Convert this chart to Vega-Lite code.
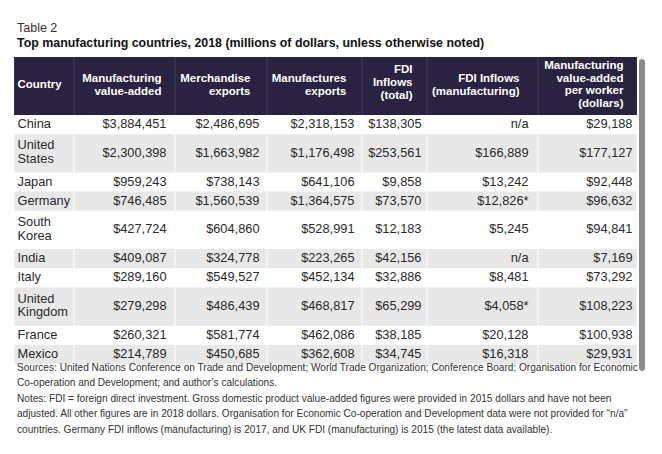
{
  "$schema": "https://vega.github.io/schema/vega-lite/v6.json",
  "background": "white",
  "padding": {"left": 14, "top": 22, "right": 10, "bottom": 5},
  "datasets": {
    "table": [
      {"country": "China", "lines": 1, "mva": 3884451, "merch": 2486695, "manuf": 2318153, "fdi": 138305, "fdim": "n/a", "perw": 29188},
      {"country": "United States", "lines": 2, "mva": 2300398, "merch": 1663982, "manuf": 1176498, "fdi": 253561, "fdim": "$166,889", "perw": 177127},
      {"country": "Japan", "lines": 1, "mva": 959243, "merch": 738143, "manuf": 641106, "fdi": 9858, "fdim": "$13,242", "perw": 92448},
      {"country": "Germany", "lines": 1, "mva": 746485, "merch": 1560539, "manuf": 1364575, "fdi": 73570, "fdim": "$12,826*", "perw": 96632},
      {"country": "South Korea", "lines": 2, "mva": 427724, "merch": 604860, "manuf": 528991, "fdi": 12183, "fdim": "$5,245", "perw": 94841},
      {"country": "India", "lines": 1, "mva": 409087, "merch": 324778, "manuf": 223265, "fdi": 42156, "fdim": "n/a", "perw": 7169},
      {"country": "Italy", "lines": 1, "mva": 289160, "merch": 549527, "manuf": 452134, "fdi": 32886, "fdim": "$8,481", "perw": 73292},
      {"country": "United Kingdom", "lines": 2, "mva": 279298, "merch": 486439, "manuf": 468817, "fdi": 65299, "fdim": "$4,058*", "perw": 108223},
      {"country": "France", "lines": 1, "mva": 260321, "merch": 581774, "manuf": 462086, "fdi": 38185, "fdim": "$20,128", "perw": 100938},
      {"country": "Mexico", "lines": 1, "mva": 214789, "merch": 450685, "manuf": 362608, "fdi": 34745, "fdim": "$16,318", "perw": 29931}
    ],
    "headers": [
      {"col": "country", "label": ["Country"]},
      {"col": "mva", "label": ["Manufacturing", "value-added"]},
      {"col": "merch", "label": ["Merchandise", "exports"]},
      {"col": "manuf", "label": ["Manufactures", "exports"]},
      {"col": "fdi", "label": ["FDI", "Inflows", "(total)"]},
      {"col": "fdim", "label": ["FDI Inflows", "(manufacturing)"]},
      {"col": "perw", "label": ["Manufacturing", "value-added", "per worker", "(dollars)"]}
    ]
  },
  "title": {
    "text": "Table 2",
    "subtitle": "Top manufacturing countries, 2018 (millions of dollars, unless otherwise noted)",
    "anchor": "start",
    "dx": 3,
    "font": "Liberation Sans",
    "fontSize": 12.5,
    "fontWeight": "normal",
    "color": "#333333",
    "subtitleFont": "Liberation Sans",
    "subtitleFontSize": 12.4,
    "subtitleFontWeight": "bold",
    "subtitleColor": "#111111",
    "subtitlePadding": 2,
    "offset": 8
  },
  "spacing": 0,
  "vconcat": [
    {
      "spacing": 0,
      "title": {
        "text": [
          "Sources: United Nations Conference on Trade and Development; World Trade Organization; Conference Board; Organisation for Economic",
          "Co-operation and Development; and author’s calculations.",
          "Notes: FDI = foreign direct investment. Gross domestic product value-added figures were provided in 2015 dollars and have not been",
          "adjusted. All other figures are in 2018 dollars. Organisation for Economic Co-operation and Development data were not provided for “n/a”",
          "countries. Germany FDI inflows (manufacturing) is 2017, and UK FDI (manufacturing) is 2015 (the latest data available)."
        ],
        "orient": "bottom",
        "anchor": "start",
        "dx": 3,
        "offset": -10.5,
        "font": "Liberation Sans",
        "fontSize": 10.1,
        "fontWeight": "normal",
        "color": "#333333",
        "lineHeight": 15.6
      },
      "hconcat": [
        {
          "spacing": 0,
          "vconcat": [
            {
              "width": 60, "height": 58,
              "data": {"name": "headers"},
              "transform": [{"filter": "datum.col == 'country'"}],
              "view": {"fill": "#443e5e"},
              "layer": [
                {"mark": {"type": "rect", "color": "#29233f"}, "encoding": {"x": {"datum": 0, "type": "quantitative", "scale": {"domain": [0, 1], "padding": 0.5, "nice": false, "zero": false}}, "x2": {"datum": 1}}},
                {
                  "mark": {"type": "text", "align": "left", "baseline": "middle", "dx": 3, "dy": -1, "font": "Liberation Sans", "fontSize": 11.5, "fontWeight": "bold", "color": "white", "lineHeight": 12.7},
                  "encoding": {"x": {"datum": 0, "type": "quantitative"}, "text": {"field": "label"}}
                }
              ]
            },
            {
              "width": 60, "height": 249,
              "data": {"name": "table"},
              "transform": [
                {"window": [{"op": "row_number", "as": "rn"}, {"op": "sum", "field": "lines", "as": "B"}], "frame": [null, 0]},
                {"window": [{"op": "sum", "field": "lines", "as": "T"}], "frame": [null, -1]}
              ],
              "layer": [
                {
                  "transform": [{"filter": "datum.rn % 2 == 0"}],
                  "mark": {"type": "rect", "color": "#e8e8e8"},
                  "encoding": {
                    "x": {"datum": 0, "type": "quantitative", "scale": {"domain": [0, 1], "padding": 0.5, "nice": false, "zero": false}},
                    "x2": {"datum": 1},
                    "y": {"field": "T", "type": "quantitative", "scale": {"domain": [0, 13], "reverse": true, "nice": false, "zero": false}},
                    "y2": {"field": "B"}
                  }
                },
                {
                  "transform": [{"filter": "datum.lines == 1"}],
                  "mark": {"type": "text", "align": "left", "baseline": "middle", "dx": 3, "dy": -10.1, "font": "Liberation Sans", "fontSize": 12.8, "color": "#2a2a2a"},
                  "encoding": {"x": {"datum": 0, "type": "quantitative"}, "y": {"field": "B", "type": "quantitative"}, "text": {"field": "country"}}
                },
                {
                  "transform": [{"filter": "datum.lines == 2"}],
                  "mark": {"type": "text", "align": "left", "baseline": "middle", "dx": 3, "dy": -27, "lineBreak": " ", "lineHeight": 13.5, "font": "Liberation Sans", "fontSize": 12.8, "color": "#2a2a2a"},
                  "encoding": {"x": {"datum": 0, "type": "quantitative"}, "y": {"field": "B", "type": "quantitative"}, "text": {"field": "country"}}
                }
              ]
            }
          ]
        },
        {
          "spacing": 0,
          "vconcat": [
            {
              "width": 101, "height": 58,
              "data": {"name": "headers"},
              "transform": [{"filter": "datum.col == 'mva'"}],
              "view": {"fill": "#443e5e"},
              "layer": [
                {"mark": {"type": "rect", "color": "#29233f"}, "encoding": {"x": {"datum": 0, "type": "quantitative", "scale": {"domain": [0, 1], "padding": 0.5, "nice": false, "zero": false}}, "x2": {"datum": 1}}},
                {
                  "mark": {"type": "text", "align": "right", "baseline": "middle", "dx": -13, "dy": -7, "font": "Liberation Sans", "fontSize": 11.5, "fontWeight": "bold", "color": "white", "lineHeight": 12.7},
                  "encoding": {"x": {"datum": 1, "type": "quantitative"}, "text": {"field": "label"}}
                }
              ]
            },
            {
              "width": 101, "height": 249,
              "data": {"name": "table"},
              "transform": [
                {"window": [{"op": "row_number", "as": "rn"}, {"op": "sum", "field": "lines", "as": "B"}], "frame": [null, 0]},
                {"window": [{"op": "sum", "field": "lines", "as": "T"}], "frame": [null, -1]}
              ],
              "layer": [
                {
                  "transform": [{"filter": "datum.rn % 2 == 0"}],
                  "mark": {"type": "rect", "color": "#e8e8e8"},
                  "encoding": {
                    "x": {"datum": 0, "type": "quantitative", "scale": {"domain": [0, 1], "padding": 0.5, "nice": false, "zero": false}},
                    "x2": {"datum": 1},
                    "y": {"field": "T", "type": "quantitative", "scale": {"domain": [0, 13], "reverse": true, "nice": false, "zero": false}},
                    "y2": {"field": "B"}
                  }
                },
                {
                  "transform": [{"filter": "datum.lines == 1"}],
                  "mark": {"type": "text", "align": "right", "baseline": "middle", "dx": -8, "dy": -10.1, "font": "Liberation Sans", "fontSize": 12.8, "color": "#2a2a2a"},
                  "encoding": {"x": {"datum": 1, "type": "quantitative"}, "y": {"field": "B", "type": "quantitative"}, "text": {"field": "mva", "type": "quantitative", "format": "$,.0f"}}
                },
                {
                  "transform": [{"filter": "datum.lines == 2"}],
                  "mark": {"type": "text", "align": "right", "baseline": "middle", "dx": -8, "dy": -19.7, "font": "Liberation Sans", "fontSize": 12.8, "color": "#2a2a2a"},
                  "encoding": {"x": {"datum": 1, "type": "quantitative"}, "y": {"field": "B", "type": "quantitative"}, "text": {"field": "mva", "type": "quantitative", "format": "$,.0f"}}
                }
              ]
            }
          ]
        },
        {
          "spacing": 0,
          "vconcat": [
            {
              "width": 92, "height": 58,
              "data": {"name": "headers"},
              "transform": [{"filter": "datum.col == 'merch'"}],
              "view": {"fill": "#443e5e"},
              "layer": [
                {"mark": {"type": "rect", "color": "#29233f"}, "encoding": {"x": {"datum": 0, "type": "quantitative", "scale": {"domain": [0, 1], "padding": 0.5, "nice": false, "zero": false}}, "x2": {"datum": 1}}},
                {
                  "mark": {"type": "text", "align": "right", "baseline": "middle", "dx": -16, "dy": -7, "font": "Liberation Sans", "fontSize": 11.5, "fontWeight": "bold", "color": "white", "lineHeight": 12.7},
                  "encoding": {"x": {"datum": 1, "type": "quantitative"}, "text": {"field": "label"}}
                }
              ]
            },
            {
              "width": 92, "height": 249,
              "data": {"name": "table"},
              "transform": [
                {"window": [{"op": "row_number", "as": "rn"}, {"op": "sum", "field": "lines", "as": "B"}], "frame": [null, 0]},
                {"window": [{"op": "sum", "field": "lines", "as": "T"}], "frame": [null, -1]}
              ],
              "layer": [
                {
                  "transform": [{"filter": "datum.rn % 2 == 0"}],
                  "mark": {"type": "rect", "color": "#e8e8e8"},
                  "encoding": {
                    "x": {"datum": 0, "type": "quantitative", "scale": {"domain": [0, 1], "padding": 0.5, "nice": false, "zero": false}},
                    "x2": {"datum": 1},
                    "y": {"field": "T", "type": "quantitative", "scale": {"domain": [0, 13], "reverse": true, "nice": false, "zero": false}},
                    "y2": {"field": "B"}
                  }
                },
                {
                  "transform": [{"filter": "datum.lines == 1"}],
                  "mark": {"type": "text", "align": "right", "baseline": "middle", "dx": -7, "dy": -10.1, "font": "Liberation Sans", "fontSize": 12.8, "color": "#2a2a2a"},
                  "encoding": {"x": {"datum": 1, "type": "quantitative"}, "y": {"field": "B", "type": "quantitative"}, "text": {"field": "merch", "type": "quantitative", "format": "$,.0f"}}
                },
                {
                  "transform": [{"filter": "datum.lines == 2"}],
                  "mark": {"type": "text", "align": "right", "baseline": "middle", "dx": -7, "dy": -19.7, "font": "Liberation Sans", "fontSize": 12.8, "color": "#2a2a2a"},
                  "encoding": {"x": {"datum": 1, "type": "quantitative"}, "y": {"field": "B", "type": "quantitative"}, "text": {"field": "merch", "type": "quantitative", "format": "$,.0f"}}
                }
              ]
            }
          ]
        },
        {
          "spacing": 0,
          "vconcat": [
            {
              "width": 95, "height": 58,
              "data": {"name": "headers"},
              "transform": [{"filter": "datum.col == 'manuf'"}],
              "view": {"fill": "#443e5e"},
              "layer": [
                {"mark": {"type": "rect", "color": "#29233f"}, "encoding": {"x": {"datum": 0, "type": "quantitative", "scale": {"domain": [0, 1], "padding": 0.5, "nice": false, "zero": false}}, "x2": {"datum": 1}}},
                {
                  "mark": {"type": "text", "align": "right", "baseline": "middle", "dx": -15, "dy": -7, "font": "Liberation Sans", "fontSize": 11.5, "fontWeight": "bold", "color": "white", "lineHeight": 12.7},
                  "encoding": {"x": {"datum": 1, "type": "quantitative"}, "text": {"field": "label"}}
                }
              ]
            },
            {
              "width": 95, "height": 249,
              "data": {"name": "table"},
              "transform": [
                {"window": [{"op": "row_number", "as": "rn"}, {"op": "sum", "field": "lines", "as": "B"}], "frame": [null, 0]},
                {"window": [{"op": "sum", "field": "lines", "as": "T"}], "frame": [null, -1]}
              ],
              "layer": [
                {
                  "transform": [{"filter": "datum.rn % 2 == 0"}],
                  "mark": {"type": "rect", "color": "#e8e8e8"},
                  "encoding": {
                    "x": {"datum": 0, "type": "quantitative", "scale": {"domain": [0, 1], "padding": 0.5, "nice": false, "zero": false}},
                    "x2": {"datum": 1},
                    "y": {"field": "T", "type": "quantitative", "scale": {"domain": [0, 13], "reverse": true, "nice": false, "zero": false}},
                    "y2": {"field": "B"}
                  }
                },
                {
                  "transform": [{"filter": "datum.lines == 1"}],
                  "mark": {"type": "text", "align": "right", "baseline": "middle", "dx": -7, "dy": -10.1, "font": "Liberation Sans", "fontSize": 12.8, "color": "#2a2a2a"},
                  "encoding": {"x": {"datum": 1, "type": "quantitative"}, "y": {"field": "B", "type": "quantitative"}, "text": {"field": "manuf", "type": "quantitative", "format": "$,.0f"}}
                },
                {
                  "transform": [{"filter": "datum.lines == 2"}],
                  "mark": {"type": "text", "align": "right", "baseline": "middle", "dx": -7, "dy": -19.7, "font": "Liberation Sans", "fontSize": 12.8, "color": "#2a2a2a"},
                  "encoding": {"x": {"datum": 1, "type": "quantitative"}, "y": {"field": "B", "type": "quantitative"}, "text": {"field": "manuf", "type": "quantitative", "format": "$,.0f"}}
                }
              ]
            }
          ]
        },
        {
          "spacing": 0,
          "vconcat": [
            {
              "width": 65, "height": 58,
              "data": {"name": "headers"},
              "transform": [{"filter": "datum.col == 'fdi'"}],
              "view": {"fill": "#443e5e"},
              "layer": [
                {"mark": {"type": "rect", "color": "#29233f"}, "encoding": {"x": {"datum": 0, "type": "quantitative", "scale": {"domain": [0, 1], "padding": 0.5, "nice": false, "zero": false}}, "x2": {"datum": 1}}},
                {
                  "mark": {"type": "text", "align": "right", "baseline": "middle", "dx": -14, "dy": -16, "font": "Liberation Sans", "fontSize": 11.5, "fontWeight": "bold", "color": "white", "lineHeight": 13.2},
                  "encoding": {"x": {"datum": 1, "type": "quantitative"}, "text": {"field": "label"}}
                }
              ]
            },
            {
              "width": 65, "height": 249,
              "data": {"name": "table"},
              "transform": [
                {"window": [{"op": "row_number", "as": "rn"}, {"op": "sum", "field": "lines", "as": "B"}], "frame": [null, 0]},
                {"window": [{"op": "sum", "field": "lines", "as": "T"}], "frame": [null, -1]}
              ],
              "layer": [
                {
                  "transform": [{"filter": "datum.rn % 2 == 0"}],
                  "mark": {"type": "rect", "color": "#e8e8e8"},
                  "encoding": {
                    "x": {"datum": 0, "type": "quantitative", "scale": {"domain": [0, 1], "padding": 0.5, "nice": false, "zero": false}},
                    "x2": {"datum": 1},
                    "y": {"field": "T", "type": "quantitative", "scale": {"domain": [0, 13], "reverse": true, "nice": false, "zero": false}},
                    "y2": {"field": "B"}
                  }
                },
                {
                  "transform": [{"filter": "datum.lines == 1"}],
                  "mark": {"type": "text", "align": "right", "baseline": "middle", "dx": -5, "dy": -10.1, "font": "Liberation Sans", "fontSize": 12.8, "color": "#2a2a2a"},
                  "encoding": {"x": {"datum": 1, "type": "quantitative"}, "y": {"field": "B", "type": "quantitative"}, "text": {"field": "fdi", "type": "quantitative", "format": "$,.0f"}}
                },
                {
                  "transform": [{"filter": "datum.lines == 2"}],
                  "mark": {"type": "text", "align": "right", "baseline": "middle", "dx": -5, "dy": -19.7, "font": "Liberation Sans", "fontSize": 12.8, "color": "#2a2a2a"},
                  "encoding": {"x": {"datum": 1, "type": "quantitative"}, "y": {"field": "B", "type": "quantitative"}, "text": {"field": "fdi", "type": "quantitative", "format": "$,.0f"}}
                }
              ]
            }
          ]
        },
        {
          "spacing": 0,
          "vconcat": [
            {
              "width": 111, "height": 58,
              "data": {"name": "headers"},
              "transform": [{"filter": "datum.col == 'fdim'"}],
              "view": {"fill": "#443e5e"},
              "layer": [
                {"mark": {"type": "rect", "color": "#29233f"}, "encoding": {"x": {"datum": 0, "type": "quantitative", "scale": {"domain": [0, 1], "padding": 0.5, "nice": false, "zero": false}}, "x2": {"datum": 1}}},
                {
                  "mark": {"type": "text", "align": "right", "baseline": "middle", "dx": -18, "dy": -7, "font": "Liberation Sans", "fontSize": 11.5, "fontWeight": "bold", "color": "white", "lineHeight": 12.7},
                  "encoding": {"x": {"datum": 1, "type": "quantitative"}, "text": {"field": "label"}}
                }
              ]
            },
            {
              "width": 111, "height": 249,
              "data": {"name": "table"},
              "transform": [
                {"window": [{"op": "row_number", "as": "rn"}, {"op": "sum", "field": "lines", "as": "B"}], "frame": [null, 0]},
                {"window": [{"op": "sum", "field": "lines", "as": "T"}], "frame": [null, -1]}
              ],
              "layer": [
                {
                  "transform": [{"filter": "datum.rn % 2 == 0"}],
                  "mark": {"type": "rect", "color": "#e8e8e8"},
                  "encoding": {
                    "x": {"datum": 0, "type": "quantitative", "scale": {"domain": [0, 1], "padding": 0.5, "nice": false, "zero": false}},
                    "x2": {"datum": 1},
                    "y": {"field": "T", "type": "quantitative", "scale": {"domain": [0, 13], "reverse": true, "nice": false, "zero": false}},
                    "y2": {"field": "B"}
                  }
                },
                {
                  "transform": [{"filter": "datum.lines == 1"}],
                  "mark": {"type": "text", "align": "right", "baseline": "middle", "dx": -9, "dy": -10.1, "font": "Liberation Sans", "fontSize": 12.8, "color": "#2a2a2a"},
                  "encoding": {"x": {"datum": 1, "type": "quantitative"}, "y": {"field": "B", "type": "quantitative"}, "text": {"field": "fdim", "type": "nominal"}}
                },
                {
                  "transform": [{"filter": "datum.lines == 2"}],
                  "mark": {"type": "text", "align": "right", "baseline": "middle", "dx": -9, "dy": -19.7, "font": "Liberation Sans", "fontSize": 12.8, "color": "#2a2a2a"},
                  "encoding": {"x": {"datum": 1, "type": "quantitative"}, "y": {"field": "B", "type": "quantitative"}, "text": {"field": "fdim", "type": "nominal"}}
                }
              ]
            }
          ]
        },
        {
          "spacing": 0,
          "vconcat": [
            {
              "width": 99, "height": 58,
              "data": {"name": "headers"},
              "transform": [{"filter": "datum.col == 'perw'"}],
              "view": {"fill": "#443e5e"},
              "layer": [
                {"mark": {"type": "rect", "color": "#29233f"}, "encoding": {"x": {"datum": 0, "type": "quantitative", "scale": {"domain": [0, 1], "padding": 0.5, "nice": false, "zero": false}}, "x2": {"datum": 1}}},
                {
                  "mark": {"type": "text", "align": "right", "baseline": "middle", "dx": -13, "dy": -20, "font": "Liberation Sans", "fontSize": 11.5, "fontWeight": "bold", "color": "white", "lineHeight": 12.5},
                  "encoding": {"x": {"datum": 1, "type": "quantitative"}, "text": {"field": "label"}}
                }
              ]
            },
            {
              "width": 99, "height": 249,
              "data": {"name": "table"},
              "transform": [
                {"window": [{"op": "row_number", "as": "rn"}, {"op": "sum", "field": "lines", "as": "B"}], "frame": [null, 0]},
                {"window": [{"op": "sum", "field": "lines", "as": "T"}], "frame": [null, -1]}
              ],
              "layer": [
                {
                  "transform": [{"filter": "datum.rn % 2 == 0"}],
                  "mark": {"type": "rect", "color": "#e8e8e8"},
                  "encoding": {
                    "x": {"datum": 0, "type": "quantitative", "scale": {"domain": [0, 1], "padding": 0.5, "nice": false, "zero": false}},
                    "x2": {"datum": 1},
                    "y": {"field": "T", "type": "quantitative", "scale": {"domain": [0, 13], "reverse": true, "nice": false, "zero": false}},
                    "y2": {"field": "B"}
                  }
                },
                {
                  "transform": [{"filter": "datum.lines == 1"}],
                  "mark": {"type": "text", "align": "right", "baseline": "middle", "dx": -4, "dy": -10.1, "font": "Liberation Sans", "fontSize": 12.8, "color": "#2a2a2a"},
                  "encoding": {"x": {"datum": 1, "type": "quantitative"}, "y": {"field": "B", "type": "quantitative"}, "text": {"field": "perw", "type": "quantitative", "format": "$,.0f"}}
                },
                {
                  "transform": [{"filter": "datum.lines == 2"}],
                  "mark": {"type": "text", "align": "right", "baseline": "middle", "dx": -4, "dy": -19.7, "font": "Liberation Sans", "fontSize": 12.8, "color": "#2a2a2a"},
                  "encoding": {"x": {"datum": 1, "type": "quantitative"}, "y": {"field": "B", "type": "quantitative"}, "text": {"field": "perw", "type": "quantitative", "format": "$,.0f"}}
                }
              ]
            }
          ]
        },
        {
          "width": 10, "height": 316,
          "data": {"values": [{}]},
          "mark": {"type": "rect", "color": "#8a8a8a", "cornerRadius": 3},
          "encoding": {
            "x": {"datum": 0, "type": "quantitative", "scale": {"domain": [0, 1], "padding": 2, "nice": false, "zero": false}},
            "x2": {"datum": 1},
            "y": {"datum": 0, "type": "quantitative", "scale": {"domain": [0, 1], "padding": 2, "nice": false, "zero": false}},
            "y2": {"datum": 1}
          }
        }
      ]
    }
  ],
  "config": {
    "view": {"stroke": null},
    "concat": {"spacing": 0},
    "axis": {"disable": true}
  }
}
